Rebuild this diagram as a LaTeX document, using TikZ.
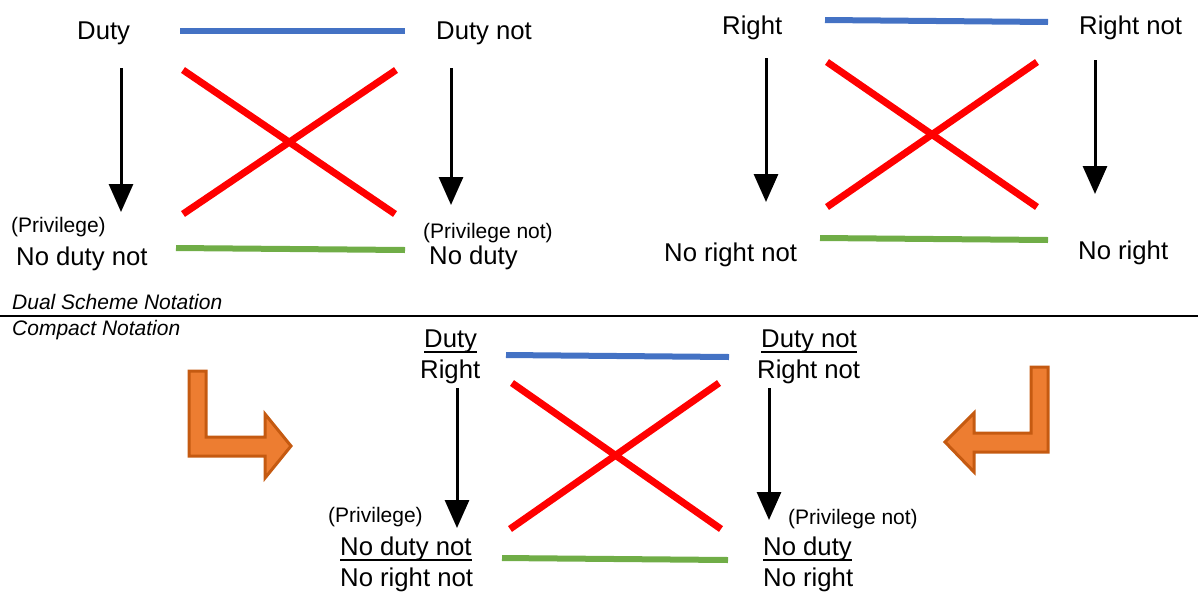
\documentclass[tikz,border=0pt]{standalone}
\usepackage{fontspec}
\setmainfont{Liberation Sans}
\usetikzlibrary{arrows.meta}
\definecolor{lnblue}{HTML}{4472C4}
\definecolor{lnred}{HTML}{FF0000}
\definecolor{lngreen}{HTML}{70AD47}
\definecolor{orfill}{HTML}{ED7D31}
\definecolor{ordraw}{HTML}{C55A11}
\newcommand\myul[1]{\setbox0\hbox{#1}\rlap{\rule[-6pt]{\wd0}{2pt}}\box0}
\tikzset{
  big/.style={font=\fontsize{25.7}{30}\selectfont, inner sep=0pt, anchor=base west},
  small/.style={font=\fontsize{21}{25}\selectfont, inner sep=0pt, anchor=base west},
  note/.style={font=\fontsize{21}{25}\selectfont\itshape, inner sep=0pt, anchor=base west},
  blueline/.style={lnblue, line width=6pt},
  redline/.style={lnred, line width=7pt},
  greenline/.style={lngreen, line width=6pt},
  blk/.style={line width=3pt, -{Triangle[width=24pt,length=28pt]}},
  bendarrow/.style={fill=orfill, draw=ordraw, line width=3pt, line join=miter}
}
\begin{document}
\begin{tikzpicture}[x=1pt,y=-1pt]
\useasboundingbox (0,0) rectangle (1198,592);

% ---------- top left ----------
\node[big] (tlA) at (77,39) {Duty};
\node[big] (tlB) at (436,39) {Duty not};
\node[small] (tlP) at (11,232) {(Privilege)};
\node[big] (tlC) at (16,265) {No duty not};
\node[small] (tlQ) at (423,238) {(Privilege not)};
\node[big] (tlD) at (429,264) {No duty};
\coordinate (tlb1) at (180,31); \coordinate (tlb2) at (405,31);
\coordinate (tlg1) at (176,248); \coordinate (tlg2) at (405,250);
\coordinate (tlr1) at (183,70); \coordinate (tlr2) at (395,214);
\coordinate (tlr3) at (396,70); \coordinate (tlr4) at (183,214);
\coordinate (tla1) at (121,68); \coordinate (tla2) at (121,212);
\coordinate (tla3) at (451,68); \coordinate (tla4) at (451,205);
\draw[blueline] (tlb1) -- (tlb2);
\draw[greenline] (tlg1) -- (tlg2);
\draw[redline] (tlr1) -- (tlr2);
\draw[redline] (tlr3) -- (tlr4);
\draw[blk] (tla1) -- (tla2);
\draw[blk] (tla3) -- (tla4);

% ---------- top right ----------
\node[big] (trA) at (722,34) {Right};
\node[big] (trB) at (1079,34) {Right not};
\node[big] (trC) at (664,261) {No right not};
\node[big] (trD) at (1078,259) {No right};
\coordinate (trb1) at (825,20); \coordinate (trb2) at (1048,22);
\coordinate (trg1) at (820,238); \coordinate (trg2) at (1048,240);
\coordinate (trr1) at (827,62); \coordinate (trr2) at (1037,207);
\coordinate (trr3) at (1037,62); \coordinate (trr4) at (827,207);
\coordinate (tra1) at (766,58); \coordinate (tra2) at (766,202);
\coordinate (tra3) at (1095,60); \coordinate (tra4) at (1095,194);
\draw[blueline] (trb1) -- (trb2);
\draw[greenline] (trg1) -- (trg2);
\draw[redline] (trr1) -- (trr2);
\draw[redline] (trr3) -- (trr4);
\draw[blk] (tra1) -- (tra2);
\draw[blk] (tra3) -- (tra4);

% ---------- separator ----------
\coordinate (sep1) at (0,316); \coordinate (sep2) at (1198,316);
\draw[line width=2pt] (sep1) -- (sep2);
\node[note] (dual) at (12,309) {Dual Scheme Notation};
\node[note] (comp) at (12,335) {Compact Notation};

% ---------- bottom ----------
\node[big] (bA) at (424,347) {\myul{Duty}};
\node[big] (bA2) at (420,378) {Right};
\node[big] (bB) at (761,347) {\myul{Duty not}};
\node[big] (bB2) at (757,378) {Right not};
\node[small] (bP) at (328,522) {(Privilege)};
\node[big] (bC) at (340,555) {\myul{No duty not}};
\node[big] (bC2) at (340,586) {No right not};
\node[small] (bQ) at (788,524) {(Privilege not)};
\node[big] (bD) at (763,555) {\myul{No duty}};
\node[big] (bD2) at (763,586) {No right};
\coordinate (bb1) at (506,355); \coordinate (bb2) at (729,357);
\coordinate (bg1) at (502,558); \coordinate (bg2) at (728,560);
\coordinate (br1) at (512,383); \coordinate (br2) at (721,529);
\coordinate (br3) at (719,383); \coordinate (br4) at (510,529);
\coordinate (ba1) at (457,388); \coordinate (ba2) at (457,528);
\coordinate (ba3) at (769,388); \coordinate (ba4) at (769,520);
\draw[blueline] (bb1) -- (bb2);
\draw[greenline] (bg1) -- (bg2);
\draw[redline] (br1) -- (br2);
\draw[redline] (br3) -- (br4);
\draw[blk] (ba1) -- (ba2);
\draw[blk] (ba3) -- (ba4);

% ---------- orange bent arrows ----------
\draw[bendarrow] (189,371) -- (206,371) -- (206,437) -- (265,437) -- (265,414)
  -- (291,446) -- (265,478) -- (265,456) -- (189,456) -- cycle;
\draw[bendarrow] (1048,367) -- (1031,367) -- (1031,433) -- (974,433) -- (974,413)
  -- (945,442) -- (974,472) -- (974,452) -- (1048,452) -- cycle;
\end{tikzpicture}
\end{document}
